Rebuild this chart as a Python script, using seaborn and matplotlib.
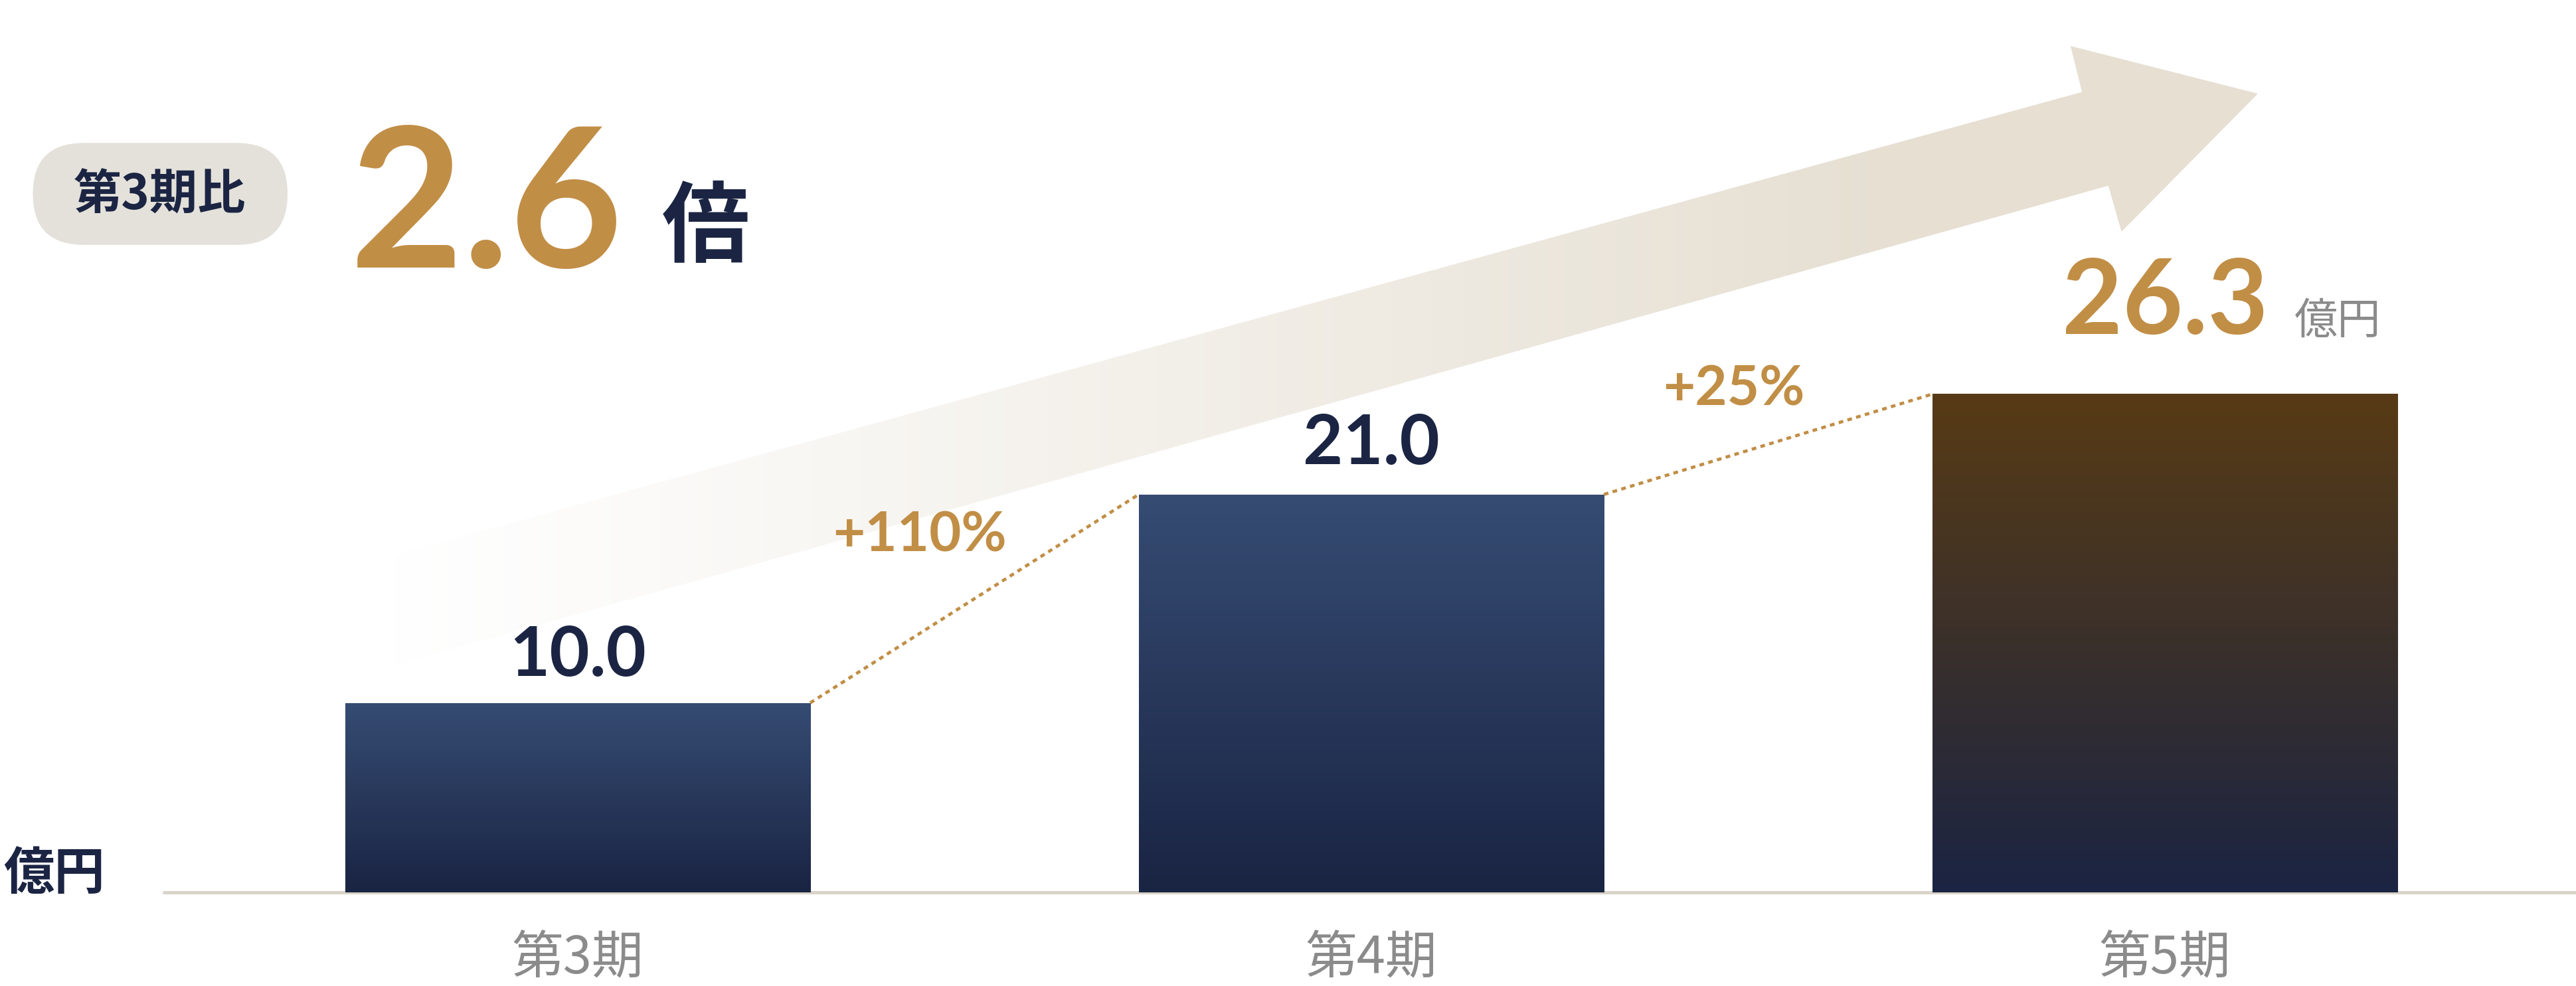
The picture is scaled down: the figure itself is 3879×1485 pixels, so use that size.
import numpy as np
import matplotlib.pyplot as plt
import seaborn as sns
from matplotlib.colors import LinearSegmentedColormap, to_rgb
from matplotlib.patches import FancyBboxPatch, Polygon

# data
periods = ["第3期", "第4期", "第5期"]
sales = [10.0, 21.0, 26.3]
growth_labels = ["+110%", "+25%"]
ratio_text = "2.6"
unit = "億円"

sns.set_theme(style="white")
plt.rcParams["font.family"] = ["Noto Sans CJK JP", "DejaVu Sans"]
NUM_FONT = ["Lato", "DejaVu Sans"]

NAVY = "#1b2543"
GOLD = "#c18e46"
GRAY = "#8b8b8b"

fig = plt.figure(figsize=(38.8, 14.85), dpi=100)

# decoration layer in reference pixel units (1568 x 600)
deco = fig.add_axes([0, 0, 1, 1], zorder=0)
deco.axis("off")

# big fading arrow
arrow_pts = [(232, 340), (1267, 56), (1260, 28), (1374, 57),
             (1291, 141), (1283, 113), (232, 407)]
arrow = Polygon(arrow_pts, closed=True, fc="none", ec="none")
deco.add_patch(arrow)
xs = np.linspace(232, 1380, 600)
alpha = np.clip((xs - 232) / (1150 - 232), 0, 1) ** 1.1
rgba = np.zeros((1, len(xs), 4))
rgba[..., :3] = to_rgb("#e6dfd2")
rgba[..., 3] = alpha
im = deco.imshow(rgba, extent=[232, 1380, 420, 20], aspect="auto", zorder=0.5)
im.set_clip_path(arrow)

# pill + headline
pill = FancyBboxPatch((20, 87), 155, 62, boxstyle="round,pad=0,rounding_size=31",
                      fc="#e4e1da", ec="none")
deco.add_patch(pill)
deco.text(97, 119, "第3期比", ha="center", va="center", fontsize=52,
          weight="bold", color=NAVY)
deco.text(213, 163, ratio_text, ha="left", va="baseline", fontsize=212,
          family=NUM_FONT, weight="bold", color=GOLD)
deco.text(403, 155, "倍", ha="left", va="baseline", fontsize=95,
          weight="bold", color=NAVY)
deco.text(2, 541, unit, ha="left", va="baseline", fontsize=55,
          weight="bold", color=NAVY)
deco.set_xlim(0, 1568)
deco.set_ylim(600, 0)

# bar chart
ax = fig.add_axes([100 / 1568, 57 / 600, 1 - 100 / 1568, 543 / 600], zorder=1)
ax.patch.set_alpha(0)
bar_w = 0.586
sns.barplot(x=periods, y=sales, width=bar_w, color=NAVY, saturation=1, ax=ax)

navy_cmap = LinearSegmentedColormap.from_list("navy", ["#1a2443", "#364c73"])
brown_cmap = LinearSegmentedColormap.from_list("brown", ["#1b2443", "#3a302b", "#583b15"])
grad = np.linspace(0, 1, 256).reshape(-1, 1)
for patch, cmap in zip(ax.patches, [navy_cmap, navy_cmap, brown_cmap]):
    x0, y0 = patch.get_x(), patch.get_y()
    w, h = patch.get_width(), patch.get_height()
    g = ax.imshow(grad, cmap=cmap, origin="lower", aspect="auto",
                  extent=[x0, x0 + w, y0, y0 + h], zorder=2)
    g.set_clip_path(patch)
    patch.set_facecolor("none")
    patch.set_edgecolor("none")

# value labels
label_gap = [29, 33, 65]
for i, v in enumerate(sales):
    last = i == len(sales) - 1
    ax.annotate(f"{v:.1f}", (i, v), xytext=(0, label_gap[i]),
                textcoords="offset points", ha="center", va="baseline",
                fontsize=113 if last else 75, family=NUM_FONT,
                weight="bold", color=GOLD if last else NAVY)
ax.annotate(unit, (len(sales) - 1, sales[-1]), xytext=(140, label_gap[-1]),
            textcoords="offset points", ha="left", va="baseline",
            fontsize=47, color=GRAY)

# dotted connectors + growth labels
offsets = [(-59, 51), (-37, 42)]
for i, lab in enumerate(growth_labels):
    x1, x2 = i + bar_w / 2, i + 1 - bar_w / 2
    y1, y2 = sales[i], sales[i + 1]
    ax.plot([x1, x2], [y1, y2], color=GOLD, lw=3.4, ls=(0, (1.5, 1.4)), zorder=3)
    ax.annotate(lab, ((x1 + x2) / 2, (y1 + y2) / 2), xytext=offsets[i],
                textcoords="offset points", ha="center", va="baseline",
                fontsize=60, family=NUM_FONT, weight="bold", color=GOLD)

ax.axhline(0, color="#d9d4c9", lw=3.6, zorder=1.5, clip_on=False)
ax.set_xlim(-0.5207, 2.5186)
ax.set_ylim(0, 47.1)
ax.set(xlabel="", ylabel="", yticks=[])
ax.tick_params(axis="x", length=0, pad=44, labelsize=56, labelcolor=GRAY)
sns.despine(ax=ax, left=True, bottom=True)

fig.savefig("out.png", dpi=100)
